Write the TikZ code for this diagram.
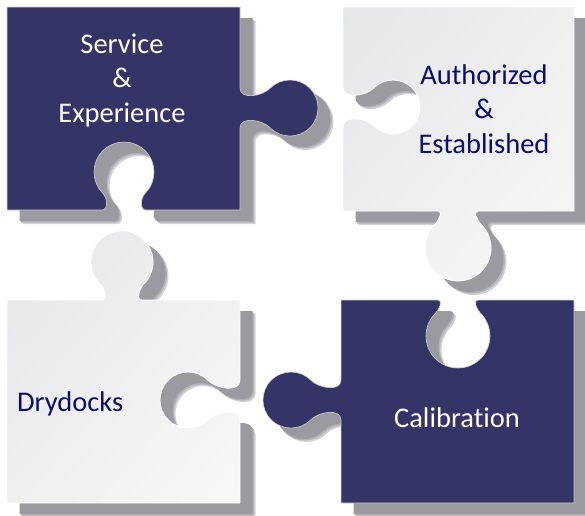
\documentclass[tikz,border=0pt]{standalone}
\usepackage{fontspec}
\setmainfont{Carlito}[Ligatures=NoCommon]
\usetikzlibrary{calc,shadings}
\definecolor{navy}{HTML}{353467}
\definecolor{navytext}{HTML}{0C0C6B}
\definecolor{shA}{HTML}{D2D2D6}
\definecolor{shB}{HTML}{B2B2B7}
\definecolor{shC}{HTML}{9A9AA0}
\definecolor{lgA}{HTML}{E5E6E8}
\definecolor{lgB}{HTML}{EFEFF0}
\definecolor{lgC}{HTML}{F8F8F8}
\def\pTL{(7,-7) -- (240,-7) -- (240,-88) to[out=-90,in=-135] ($(290,-108)+(135:28)$) arc[start angle=-225,end angle=-495,radius=28] to[out=-225,in=90] (240,-128) -- (240,-210) -- (146,-210) to[out=180,in=225] ($(124,-172)+(-45:30)$) arc[start angle=-45,end angle=225,radius=30] to[out=315,in=0] (102,-210) -- (7,-210) -- cycle}
\def\pTR{(343,-7) -- (574,-7) -- (574,-211) -- (478,-211) to[out=180,in=135] ($(458,-248)+(45:33)$) arc[start angle=45,end angle=-225,radius=33] to[out=45,in=0] (438,-211) -- (343,-211) -- (343,-127) to[out=90,in=135] ($(393,-107)+(-135:27)$) arc[start angle=-135,end angle=135,radius=27] to[out=225,in=270] (343,-87) -- cycle}
\def\pBL{(7,-300) -- (102,-300) to[out=0,in=-45] ($(122,-262)+(-135:31)$) arc[start angle=-135,end angle=-405,radius=31] to[out=-135,in=180] (142,-300) -- (240,-300) -- (240,-380) to[out=-90,in=-45] ($(188,-400)+(45:28)$) arc[start angle=45,end angle=315,radius=28] to[out=45,in=90] (240,-420) -- (240,-503) -- (7,-503) -- cycle}
\def\pBR{(341,-300) -- (438,-300) to[out=0,in=45] ($(458,-336)+(135:32)$) arc[start angle=135,end angle=405,radius=32] to[out=135,in=180] (478,-300) -- (574,-300) -- (574,-503) -- (341,-503) -- (341,-420) to[out=90,in=45] ($(291,-400)+(-45:28)$) arc[start angle=-45,end angle=-315,radius=28] to[out=-45,in=270] (341,-380) -- cycle}
\tikzset{
  txt/.style={font=\fontsize{28.5}{34.5}\selectfont, align=center, inner sep=0pt},
  wtext/.style={txt, text=white},
  btext/.style={txt, text=navytext},
  navypiece/.style={fill=navy, draw=gray!35, line width=0.6pt},
  lightpiece/.style={upper left=lgA, upper right=lgB, lower left=lgB, lower right=lgC, draw=white, line width=0.8pt},
}
\begin{document}
\begin{tikzpicture}[x=1pt,y=1pt]
\useasboundingbox (0,0) rectangle (585,-515);
% shadows
\foreach \p in {\pTL,\pTR,\pBL,\pBR}{
  \fill[shA, shift={(15.5,-14)}] \p;
  \fill[shB, shift={(14,-12.5)}] \p;
  \fill[shC, shift={(12.5,-11)}] \p;
}
% pieces
\path[navypiece] \pTL;
\shade[lightpiece] \pTR;
\shade[lightpiece] \pBL;
\path[navypiece] \pBR;
% texts
\node[wtext] (se) at (122,-80) {Service\\\&\\Experience};
\node[btext] (ae) at (484,-109) {Authorized\\\&\\Established};
\node[btext, anchor=base west] (dd) at (17,-411) {Drydocks};
\node[wtext, anchor=base] (ca) at (457,-427) {Calibration};
\end{tikzpicture}
\end{document}
